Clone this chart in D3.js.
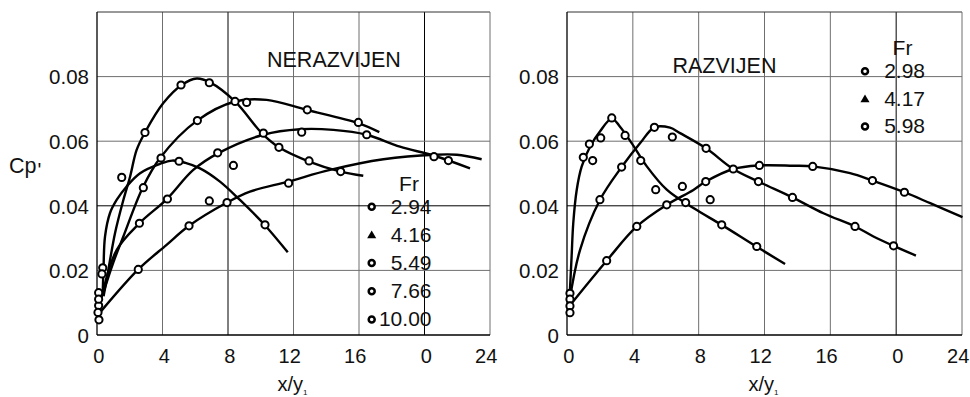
<!DOCTYPE html>
<html>
<head>
<meta charset="utf-8">
<script src="https://cdn.jsdelivr.net/npm/d3@7"></script>
<style>
  html, body { margin: 0; padding: 0; background: #fff; }
  svg { display: block; }
  text { font-family: "Liberation Sans", Arial, Helvetica, sans-serif; fill: #111; }
</style>
</head>
<body>
<svg id="chart" width="970" height="397"></svg>
<script>
// ---- Axis ticks ----
const xTickValues = [0, 4, 8, 12, 16, 20, 24];
const xTickLabels = ["0", "4", "8", "12", "16", "0", "24"];
const yTickValues = [0, 0.02, 0.04, 0.06, 0.08];
const yTickLabels = ["0", "0.02", "0.04", "0.06", "0.08"];
const yGridValues = [0.02, 0.04, 0.06, 0.08];

// ---- NERAZVIJEN (undeveloped inflow) ----
const nerFr = ["2.94", "4.16", "5.49", "7.66", "10.00"];
const nerSymbols = ["circle", "triangle", "circle", "circle", "circle"];
// fitted curves
const nerCurve294 = [[0.35,0.013],[0.4,0.021],[0.49,0.0305],[0.79,0.0377],[1.2,0.0418],[1.81,0.046],[2.63,0.0501],[3.85,0.0530],[4.6,0.0540],[5.4,0.0533],[6.29,0.0516],[7.51,0.0475],[8.73,0.0418],[10.2,0.0343],[11.65,0.0256]];
const nerCurve416 = [[0.4,0.012],[0.55,0.016],[1.1,0.0315],[1.61,0.0418],[2.02,0.049],[2.42,0.0573],[2.93,0.0627],[4.05,0.0718],[5.17,0.0774],[6.09,0.0794],[6.9,0.0782],[8.43,0.0723],[10.06,0.0625],[11.11,0.0581],[12.95,0.0537],[14.88,0.0506],[16.26,0.0493]];
const nerCurve549 = [[0.35,0.0125],[1.0,0.0225],[1.61,0.0305],[2.79,0.0456],[3.85,0.0548],[6.09,0.0663],[8.43,0.0723],[10.36,0.0728],[12.8,0.0697],[15.96,0.0656],[17.24,0.0628]];
const nerCurve766 = [[0.28,0.0115],[1.2,0.0263],[2.59,0.0346],[4.25,0.042],[5.88,0.0511],[7.41,0.0563],[10.16,0.062],[12.4,0.0637],[14.43,0.0635],[16.47,0.062],[18.5,0.0583],[20.6,0.0555],[22.78,0.0516]];
const nerCurve1000 = [[0.14,0.0067],[2.52,0.0203],[4.25,0.0279],[5.62,0.0338],[7.94,0.041],[9.34,0.0444],[11.68,0.0475],[14.23,0.0511],[17.49,0.0544],[20.6,0.0558],[21.97,0.0558],[23.49,0.0544]];
// measured points
const nerPts294 = [[0.35,0.0208],[3.91,0.0548],[5.01,0.0538],[10.26,0.0341]];
const nerPts416 = [[0.3,0.0189],[0.1,0.0091],[1.51,0.0488],[2.93,0.0627],[5.13,0.0774],[6.86,0.0781],[8.43,0.0723],[10.16,0.0625],[11.11,0.0581],[12.95,0.0539],[14.88,0.0506]];
const nerPts549 = [[0.1,0.0131],[2.83,0.0456],[6.13,0.0664],[9.14,0.072],[12.84,0.0697],[15.96,0.0658]];
const nerPts766 = [[0.1,0.0111],[2.59,0.0346],[4.3,0.0421],[7.37,0.0564],[8.33,0.0525],[12.5,0.0628],[16.47,0.062],[20.58,0.0552],[21.46,0.054]];
const nerPts1000 = [[0.06,0.007],[0.12,0.0047],[2.52,0.0203],[5.62,0.0338],[6.86,0.0415],[7.94,0.041],[11.7,0.047]];

// ---- RAZVIJEN (developed inflow) ----
const razFr = ["2.98", "4.17", "5.98"];
const razSymbols = ["circle", "triangle", "circle"];
const razCurve298 = [[0.15,0.011],[0.28,0.0243],[0.38,0.0346],[0.59,0.0449],[0.89,0.0521],[1.4,0.0583],[2.0,0.063],[2.72,0.0670],[3.22,0.0645],[3.93,0.0594],[4.85,0.0522],[6.06,0.045],[7.68,0.0393],[9.4,0.0341],[11.5,0.0274],[13.25,0.022]];
const razCurve417 = [[0.15,0.0105],[0.79,0.0263],[2.0,0.0418],[3.32,0.052],[4.46,0.0595],[5.31,0.0643],[6.26,0.0642],[6.87,0.0625],[8.45,0.0578],[10.1,0.0514],[11.63,0.0475],[13.7,0.0426],[15.58,0.0377],[17.5,0.0336],[18.62,0.0305],[19.84,0.0276],[21.2,0.0246]];
const razCurve598 = [[0.15,0.009],[2.41,0.023],[4.24,0.0336],[6.06,0.0403],[7.68,0.0449],[8.43,0.0475],[10.1,0.0514],[11.69,0.0525],[13.75,0.0524],[14.93,0.0522],[17.2,0.0501],[18.56,0.0478],[20.5,0.0442],[22.07,0.0408],[24.03,0.0365]];
const razPts298 = [[0.18,0.0129],[0.99,0.055],[1.36,0.0591],[1.56,0.054],[2.05,0.061],[2.72,0.0672],[3.53,0.0618],[4.48,0.054],[5.39,0.045],[7.21,0.041],[8.7,0.0419],[9.4,0.0341],[11.53,0.0274]];
const razPts417 = [[0.18,0.0111],[2.0,0.0419],[3.32,0.052],[5.31,0.0643],[6.4,0.0613],[8.45,0.0578],[10.1,0.0514],[11.63,0.0475],[13.7,0.0426],[17.5,0.0336],[19.84,0.0276]];
const razPts598 = [[0.18,0.009],[0.18,0.0069],[2.41,0.023],[4.24,0.0336],[6.06,0.0403],[7.01,0.046],[8.43,0.0475],[11.69,0.0525],[14.93,0.0522],[18.56,0.0478],[20.5,0.0442]];

// ---- Panel layout ----
const panels = [
  {
    left: 97, right: 490, top: 12, bottom: 335,
    title: "NERAZVIJEN", titleX: 267, titleY: 67,
    curves: [nerCurve294, nerCurve416, nerCurve549, nerCurve766, nerCurve1000],
    points: [nerPts294, nerPts416, nerPts549, nerPts766, nerPts1000],
    fr: nerFr, symbols: nerSymbols,
    legend: { frX: 409, frY: 191, markX: 371.7, textX: 431.5, firstY: 213.5, step: 28.2 },
    darkX: [8, 20], darkY: [0.04], showCp: true
  },
  {
    left: 567, right: 962, top: 12, bottom: 335,
    title: "RAZVIJEN", titleX: 672.5, titleY: 73,
    curves: [razCurve298, razCurve417, razCurve598],
    points: [razPts298, razPts417, razPts598],
    fr: razFr, symbols: razSymbols,
    legend: { frX: 902.5, frY: 55, markX: 865, textX: 925, firstY: 78, step: 27.7 },
    darkX: [20], darkY: [0.04], showCp: false
  }
];

const svg = d3.select("#chart");
svg.append("rect").attr("width", 970).attr("height", 397).attr("fill", "#fff");

panels.forEach(p => {
  const x = d3.scaleLinear().domain([0, 24]).range([p.left, p.right]);
  const y = d3.scaleLinear().domain([0, 0.1]).range([p.bottom, p.top]);
  const g = svg.append("g");

  // grid
  const grid = g.append("g");
  xTickValues.filter(v => v > 0 && v < 24).forEach(v => {
    grid.append("line")
      .attr("x1", x(v)).attr("x2", x(v)).attr("y1", y(0)).attr("y2", y(0.1))
      .attr("stroke", p.darkX.includes(v) ? "#000" : "#6f6f6f")
      .attr("stroke-width", 1);
  });
  yGridValues.forEach(v => {
    grid.append("line")
      .attr("x1", x(0)).attr("x2", x(24)).attr("y1", y(v)).attr("y2", y(v))
      .attr("stroke", p.darkY.includes(v) ? "#000" : "#6f6f6f")
      .attr("stroke-width", 1);
  });
  // frame
  grid.append("line").attr("x1", x(0)).attr("x2", x(24)).attr("y1", y(0.1)).attr("y2", y(0.1))
    .attr("stroke", "#333").attr("stroke-width", 1);
  grid.append("line").attr("x1", x(24)).attr("x2", x(24)).attr("y1", y(0)).attr("y2", y(0.1))
    .attr("stroke", "#6f6f6f").attr("stroke-width", 1);
  grid.append("line").attr("x1", x(0)).attr("x2", x(0)).attr("y1", y(0)).attr("y2", y(0.1))
    .attr("stroke", "#000").attr("stroke-width", 1.3);
  grid.append("line").attr("x1", x(0)).attr("x2", x(24)).attr("y1", y(0)).attr("y2", y(0))
    .attr("stroke", "#000").attr("stroke-width", 1.3);

  // axes (labels only)
  const xAxis = d3.axisBottom(x).tickValues(xTickValues)
    .tickFormat((d, i) => xTickLabels[i]).tickSize(0).tickPadding(0);
  const gx = g.append("g").attr("transform", `translate(0,${p.bottom})`).call(xAxis);
  gx.select(".domain").remove();
  gx.selectAll("text")
    .attr("text-anchor", "end").attr("x", 6.8).attr("y", 28).attr("dy", null)
    .style("font-size", "20px").style("fill", "#111")
    .style("font-family", "'Liberation Sans', Arial, sans-serif");

  const yAxis = d3.axisLeft(y).tickValues(yTickValues)
    .tickFormat((d, i) => yTickLabels[i]).tickSize(0).tickPadding(8);
  const gy = g.append("g").attr("transform", `translate(${p.left},0)`).call(yAxis);
  gy.select(".domain").remove();
  gy.selectAll("text")
    .attr("dy", "0.36em")
    .style("font-size", "20.5px").style("fill", "#111")
    .style("font-family", "'Liberation Sans', Arial, sans-serif");

  // axis titles
  const xt = g.append("text")
    .attr("x", (p.left + p.right) / 2 - 1).attr("y", 391)
    .attr("text-anchor", "middle").style("font-size", "20px");
  xt.append("tspan").text("x/y");
  xt.append("tspan").text("1").style("font-size", "8px").attr("dy", 4);

  if (p.showCp) {
    const cp = g.append("text").attr("x", 9).attr("y", 173).style("font-size", "21.5px");
    cp.append("tspan").text("Cp");
    cp.append("tspan").text("'").style("font-size", "20px").attr("dx", 1).attr("dy", 4);
  }

  // panel title
  g.append("text").attr("x", p.titleX).attr("y", p.titleY)
    .style("font-size", "21.5px").text(p.title);

  // fitted curves
  const line = d3.line()
    .x(d => x(d[0])).y(d => y(d[1]))
    .curve(d3.curveCatmullRom.alpha(0.5));
  p.curves.forEach(c => {
    g.append("path").attr("d", line(c))
      .attr("fill", "none").attr("stroke", "#000")
      .attr("stroke-width", 2.4).attr("stroke-linejoin", "round");
  });

  // measured points
  p.points.forEach(s => {
    g.selectAll(null).data(s).join("circle")
      .attr("cx", d => x(d[0])).attr("cy", d => y(d[1]))
      .attr("r", 3.6).attr("fill", "#fff")
      .attr("stroke", "#000").attr("stroke-width", 2);
  });

  // legend
  const L = p.legend;
  g.append("text").attr("x", L.frX).attr("y", L.frY)
    .attr("text-anchor", "middle").style("font-size", "21px").text("Fr");
  p.fr.forEach((label, i) => {
    const by = L.firstY + i * L.step;
    const cy = by - 6.8;
    if (p.symbols[i] === "triangle") {
      g.append("path")
        .attr("d", d3.symbol().type(d3.symbolTriangle).size(36)())
        .attr("transform", `translate(${L.markX},${cy + 0.8})`)
        .attr("fill", "#000");
    } else {
      g.append("circle").attr("cx", L.markX).attr("cy", cy).attr("r", 3)
        .attr("fill", "#fff").attr("stroke", "#000").attr("stroke-width", 2.5);
    }
    g.append("text").attr("x", L.textX).attr("y", by)
      .attr("text-anchor", "end").style("font-size", "21px").text(label);
  });
});
</script>
</body>
</html>
